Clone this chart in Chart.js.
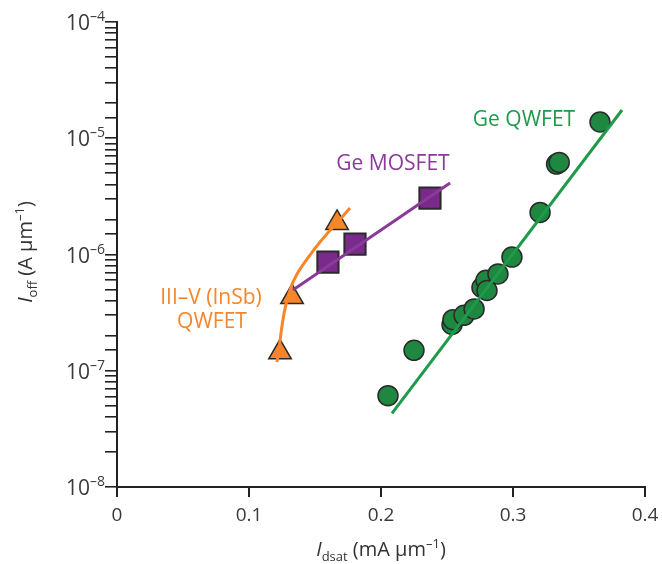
<!doctype html>
<html>
<head>
<title>Ioff vs Idsat</title>
<script src="https://cdn.jsdelivr.net/npm/chart.js@4/dist/chart.umd.min.js"></script>
<style>
body { margin: 0; background: #fff; }
</style>
</head>
<body>
<canvas id="chart-area" width="662" height="564"></canvas>
<script>
// data (x: mA/um, y: A/um)
var qwfetX = [0.2053, 0.225, 0.2538, 0.2545, 0.2629, 0.2705, 0.2765, 0.2795, 0.2803, 0.2886, 0.2992, 0.3205, 0.333, 0.335, 0.3659];
var qwfetY = [6.1e-8, 1.5e-7, 2.5e-7, 2.75e-7, 3.0e-7, 3.4e-7, 5.2e-7, 6.0e-7, 4.9e-7, 6.8e-7, 9.5e-7, 2.3e-6, 6.0e-6, 6.2e-6, 1.38e-5];
var qwfetFitX = [0.2083, 0.3826];
var qwfetFitY = [4.3e-8, 1.75e-5];

var mosX = [0.1598, 0.1803, 0.2371];
var mosY = [8.6e-7, 1.23e-6, 3.06e-6];
var mosFitX = [0.1333, 0.2523];
var mosFitY = [4.96e-7, 4.12e-6];

var insbX = [0.1235, 0.1326, 0.1667];
var insbY = [1.44e-7, 4.3e-7, 1.87e-6];
var insbFitX = [0.1212, 0.1303, 0.1462, 0.1765];
var insbFitY = [1.19e-7, 4.67e-7, 9.9e-7, 2.51e-6];

var yTickExps = [-8, -7, -6, -5, -4];
var xTicks = [0, 0.1, 0.2, 0.3, 0.4];

var FONT = "'Open Sans', sans-serif";
var GREEN = '#1f9a4a', GREEN_DOT = '#1e8740';
var PURPLE = '#8a3a98', PURPLE_SQ = '#7b2a8c';
var ORANGE = '#f7862a';

function pts(xs, ys) {
    return xs.map(function (x, i) { return {x: x, y: ys[i]}; });
}

// draw a run of text pieces (font, dy) centred on x
function drawRich(ctx, parts, x, y) {
    var total = 0;
    parts.forEach(function (p) { ctx.font = p.font; total += ctx.measureText(p.t).width; });
    var cx = x - total / 2;
    parts.forEach(function (p) {
        ctx.font = p.font;
        ctx.fillText(p.t, cx, y + (p.dy || 0));
        cx += ctx.measureText(p.t).width;
    });
}

var textPlugin = {
    id: 'texts',
    afterDraw: function (chart) {
        var ctx = chart.ctx;
        var ys = chart.scales.y;
        ctx.save();
        ctx.textBaseline = 'alphabetic';
        ctx.textAlign = 'left';
        // y tick labels 10^n
        ctx.fillStyle = '#3a3a3a';
        yTickExps.forEach(function (e) {
            var py = ys.getPixelForValue(Math.pow(10, e));
            ctx.font = '21px ' + FONT;
            var w = ctx.measureText('10').width;
            ctx.fillText('10', 90 - w, py + 8);
            ctx.font = '14px ' + FONT;
            ctx.fillText('\u2013' + Math.abs(e), 90, py - 1);
        });
        // x title
        ctx.fillStyle = '#333';
        drawRich(ctx, [
            {t: 'I', font: 'italic 20px ' + FONT},
            {t: 'dsat', font: '13px ' + FONT, dy: 5},
            {t: ' (mA \u00b5m', font: '20px ' + FONT},
            {t: '\u20131', font: '13px ' + FONT, dy: -8},
            {t: ')', font: '20px ' + FONT}
        ], 381, 556);
        // y title
        ctx.save();
        ctx.translate(32, 252);
        ctx.rotate(-Math.PI / 2);
        drawRich(ctx, [
            {t: 'I', font: 'italic 20px ' + FONT},
            {t: 'off', font: '13px ' + FONT, dy: 5},
            {t: ' (A \u00b5m', font: '20px ' + FONT},
            {t: '\u20131', font: '13px ' + FONT, dy: -8},
            {t: ')', font: '20px ' + FONT}
        ], 0, 0);
        ctx.restore();
        // series labels
        ctx.font = '21px ' + FONT;
        ctx.textAlign = 'center';
        ctx.fillStyle = GREEN;
        ctx.fillText('Ge QWFET', 524, 126);
        ctx.fillStyle = PURPLE;
        ctx.fillText('Ge MOSFET', 393, 170);
        ctx.fillStyle = ORANGE;
        ctx.fillText('III\u2013V (InSb)', 211, 304);
        ctx.fillText('QWFET', 212, 328);
        ctx.restore();
    }
};

var config = {
    type: 'scatter',
    data: {
        datasets: [{
            data: pts(insbFitX, insbFitY),
            showLine: true, borderColor: ORANGE, borderWidth: 3, pointRadius: 0, tension: 0.4
        }, {
            data: pts(mosFitX, mosFitY),
            showLine: true, borderColor: PURPLE, borderWidth: 3, pointRadius: 0
        }, {
            data: pts(qwfetFitX, qwfetFitY),
            showLine: true, borderColor: GREEN, borderWidth: 3, pointRadius: 0
        }, {
            data: pts(insbX, insbY),
            pointStyle: 'triangle', pointRadius: 13, backgroundColor: ORANGE, borderColor: '#2a2a2a', borderWidth: 1.5
        }, {
            data: pts(mosX, mosY),
            pointStyle: 'rect', pointRadius: 15, backgroundColor: PURPLE_SQ, borderColor: '#2a2a2a', borderWidth: 2
        }, {
            data: pts(qwfetX, qwfetY),
            pointStyle: 'circle', pointRadius: 10, backgroundColor: GREEN_DOT, borderColor: '#2a2a2a', borderWidth: 1.5
        }]
    },
    options: {
        responsive: false,
        animation: false,
        devicePixelRatio: 1,
        layout: { padding: { top: 22, right: 17, left: 0, bottom: 0 } },
        plugins: { legend: { display: false }, tooltip: { enabled: false } },
        scales: {
            x: {
                type: 'linear', min: 0, max: 0.4,
                afterFit: function (s) { s.height = 77; s.paddingLeft = 0; s.paddingRight = 0; },
                afterBuildTicks: function (s) { s.ticks = xTicks.map(function (v) { return {value: v}; }); },
                border: { display: true, color: '#222', width: 2 },
                grid: { drawOnChartArea: false, drawTicks: true, tickLength: 10, color: '#222', lineWidth: 2 },
                ticks: { color: '#3a3a3a', font: { family: FONT, size: 19 }, padding: 7 }
            },
            y: {
                type: 'logarithmic', min: 1e-8, max: 1e-4,
                afterFit: function (s) { s.width = 117; s.paddingTop = 0; s.paddingBottom = 0; },
                border: { display: true, color: '#222', width: 2 },
                grid: { drawOnChartArea: false, drawTicks: true, tickLength: 12, color: '#222', lineWidth: 1.6 },
                ticks: { autoSkip: false, callback: function () { return ''; } }
            }
        }
    },
    plugins: [textPlugin]
};

window.onload = function () {
    var ctx = document.getElementById('chart-area').getContext('2d');
    window.myChart = new Chart(ctx, config);
};
</script>
</body>
</html>
